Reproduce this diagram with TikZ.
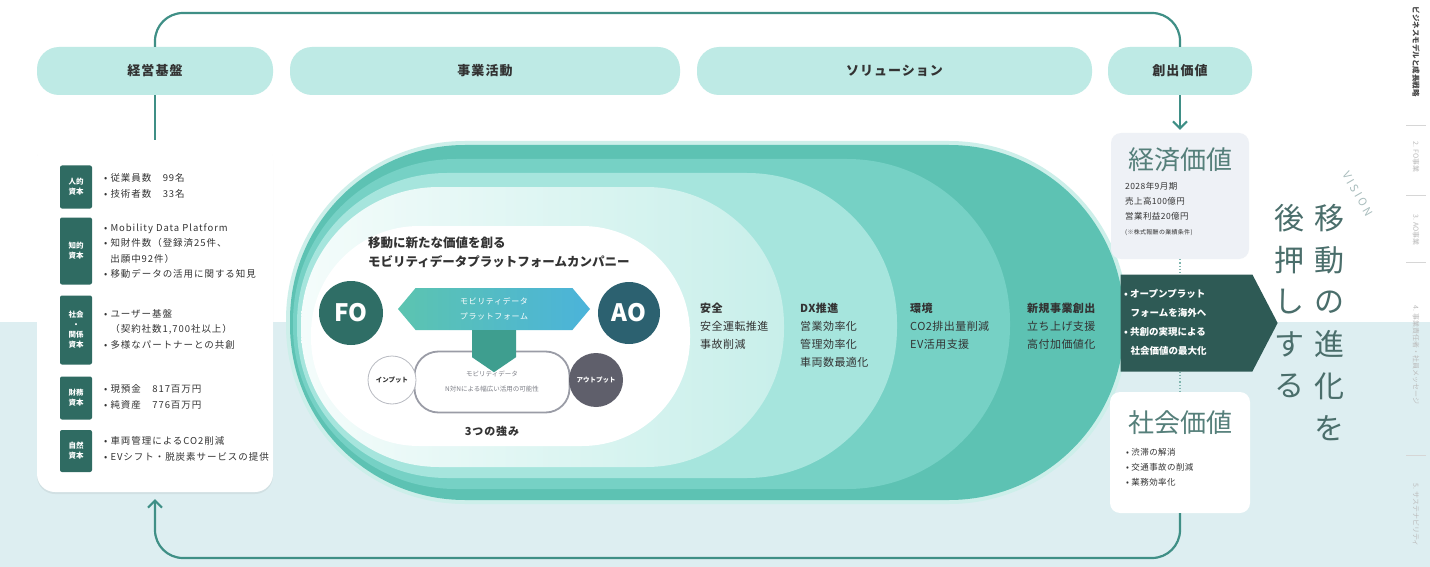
\documentclass[tikz,border=0pt]{standalone}
\usepackage{fontspec}
\setmainfont{Noto Sans CJK JP}
\usetikzlibrary{arrows.meta,shadows,calc,shapes.symbols}
\definecolor{bgband}{HTML}{DDEEF1}
\definecolor{loopc}{HTML}{3F8F86}
\definecolor{hdr}{HTML}{BEEAE5}
\definecolor{capcol}{HTML}{2F6B62}
\definecolor{txt}{HTML}{333333}
\definecolor{lay1}{HTML}{5DC2B3}
\definecolor{lay2}{HTML}{76D1C5}
\definecolor{lay3}{HTML}{A6E5DD}
\definecolor{lay4a}{HTML}{F4FCFB}
\definecolor{lay4b}{HTML}{C8EFEA}
\definecolor{glow}{HTML}{CDEFEA}
\definecolor{focol}{HTML}{2F6E66}
\definecolor{aocol}{HTML}{2C6170}
\definecolor{hexl}{HTML}{5CC4B0}
\definecolor{hexr}{HTML}{4BB3DA}
\definecolor{downarr}{HTML}{3E9E8F}
\definecolor{grayln}{HTML}{9A9CA6}
\definecolor{outcol}{HTML}{5F5F6B}
\definecolor{econbox}{HTML}{EEF1F6}
\definecolor{valtitle}{HTML}{557F7A}
\definecolor{darkarr}{HTML}{2E5A55}
\definecolor{vistxt}{HTML}{4A6E6B}
\definecolor{visgray}{HTML}{A9BDBD}
\definecolor{navdark}{HTML}{444444}
\definecolor{navlight}{HTML}{BBBBBB}
\definecolor{dotc}{HTML}{7FB5AE}
\begin{document}
\begin{tikzpicture}[x=1pt,y=-1pt,
  hdrbox/.style={fill=hdr, rounded corners=22pt, minimum height=48pt, inner sep=0pt,
    font=\fontsize{13}{15}\selectfont\bfseries\addfontfeatures{LetterSpace=8}, text=txt},
  capbox/.style={fill=capcol, text=white, font=\fontsize{7.5}{10}\selectfont\bfseries,
    minimum width=32pt, inner sep=0pt, align=center, rounded corners=2pt},
  captext/.style={anchor=west, align=left, font=\fontsize{9.5}{15.5}\selectfont\addfontfeatures{LetterSpace=10}, text=txt, inner sep=0pt},
  bandtext/.style={anchor=north west, align=left, font=\fontsize{11}{18}\selectfont\addfontfeatures{LetterSpace=4}, text=txt, inner sep=0pt},
  loopline/.style={draw=loopc, line width=2.2pt},
  vistext/.style={font=\fontsize{30}{32}\selectfont, text=vistxt, inner sep=0pt},
  navtext/.style={rotate=-90, font=\fontsize{7}{8}\selectfont, inner sep=0pt},
  valbox/.style={rounded corners=10pt, inner sep=0pt},
  small/.style={font=\fontsize{8.5}{15}\selectfont\addfontfeatures{LetterSpace=5}, text=txt, inner sep=0pt, align=left, anchor=north west}
]
\useasboundingbox (0,0) rectangle (1430,567);
\fill[white] (0,0) rectangle (1430,567);
\fill[bgband] (0,322) rectangle (1430,567);

% headers
\node[hdrbox, minimum width=236pt] (h1) at (155,71) {経営基盤};
\node[hdrbox, minimum width=390pt] (h2) at (485,71) {事業活動};
\node[hdrbox, minimum width=395pt] (h3) at (894.5,71) {ソリューション};
\node[hdrbox, minimum width=144pt] (h4) at (1180,71) {創出価値};

% left panel
\node[fill=white, rounded corners=18pt, minimum width=236pt, minimum height=352pt,
  drop shadow={opacity=0.12, shadow xshift=0pt, shadow yshift=-2pt}] (lp) at (155,316) {};

\node[capbox, minimum height=43pt] (c1) at (76,187) {人的\\資本};
\node[capbox, minimum height=67pt] (c2) at (76,251) {知的\\資本};
\node[capbox, minimum height=69pt] (c3) at (76,330) {社会\\・\\関係\\資本};
\node[capbox, minimum height=43pt] (c4) at (76,398) {財務\\資本};
\node[capbox, minimum height=42pt] (c5) at (76,451) {自然\\資本};

\node[captext] (t1) at (104,186) {• 従業員数　99名\\• 技術者数　33名};
\node[captext] (t2) at (104,251) {• Mobility Data Platform\\• 知財件数（登録済25件、\\\ \ 出願中92件）\\• 移動データの活用に関する知見};
\node[captext] (t3) at (104,329) {• ユーザー基盤\\\ \ （契約社数1,700社以上）\\• 多様なパートナーとの共創};
\node[captext] (t4) at (104,397) {• 現預金　817百万円\\• 純資産　776百万円};
\node[captext] (t5) at (104,449) {• 車両管理によるCO2削減\\• EVシフト・脱炭素サービスの提供};

% nested layers
\draw[glow, line width=8pt, rounded corners=175pt] (290,145) rectangle (1124,500);
\fill[lay1, rounded corners=175pt] (290,145) rectangle (1124,500);
\fill[lay2, rounded corners=163pt] (293,159) rectangle (1010,489);
\fill[lay3, rounded corners=150pt] (297,173) rectangle (897,478);
\shade[left color=lay4a, right color=lay4b, rounded corners=138pt] (301,187) rectangle (784,467);
\fill[white, rounded corners=108pt] (311,226) rectangle (690,446);

% band texts
\node[bandtext] (b1) at (700,303) {\textbf{安全}\\安全運転推進\\事故削減};
\node[bandtext] (b2) at (800,303) {\textbf{DX推進}\\営業効率化\\管理効率化\\車両数最適化};
\node[bandtext] (b3) at (910,303) {\textbf{環境}\\CO2排出量削減\\EV活用支援};
\node[bandtext] (b4) at (1027,303) {\textbf{新規事業創出}\\立ち上げ支援\\高付加価値化};

% inner content
\node[anchor=west, align=left, inner sep=0pt, text=txt, font=\fontsize{12.5}{19}\selectfont\bfseries] (ttl) at (368,252)
  {移動に新たな価値を創る\\モビリティデータプラットフォームカンパニー};
\node[circle, fill=focol, minimum size=64pt, inner sep=0pt, text=white, font=\fontsize{24}{26}\selectfont\bfseries] (fo) at (351,313) {FO};
\node[circle, fill=aocol, minimum size=62pt, inner sep=0pt, text=white, font=\fontsize{24}{26}\selectfont\bfseries] (ao) at (629,313) {AO};
\node[signal, signal to=east and west, signal pointer angle=100, minimum width=192pt, minimum height=42pt,
  left color=hexl, right color=hexr, inner sep=0pt, text=white, align=center,
  font=\fontsize{8}{15}\selectfont\addfontfeatures{LetterSpace=8}] (hex) at (494,309) {モビリティデータ\\プラットフォーム};
\node[draw=grayln, line width=1.8pt, rounded corners=24pt, minimum width=155pt, minimum height=61pt,
  inner sep=0pt, align=center, text=grayln!80!black, font=\fontsize{6.5}{15}\selectfont] (nn) at (492,382)
  {モビリティデータ\\N対Nによる幅広い活用の可能性};
\fill[downarr] ($(hex.south)+(-22,0)$) -- ++(44,0) -- ++(0,27) -- ++(-22,15) -- ++(-22,-15) -- cycle;
\node[circle, draw=grayln!70, line width=0.8pt, fill=white, minimum size=48pt, inner sep=0pt,
  text=txt, font=\fontsize{6.5}{8}\selectfont\bfseries] (inp) at (392,380) {インプット};
\node[circle, fill=outcol, minimum size=54pt, inner sep=0pt,
  text=white, font=\fontsize{6.5}{8}\selectfont\bfseries] (outp) at (596,380) {アウトプット};
\node[font=\fontsize{11}{13}\selectfont\bfseries\addfontfeatures{LetterSpace=8}, text=txt, inner sep=0pt] (str) at (492,431) {3つの強み};

% right column
\node[valbox, fill=econbox, minimum width=138pt, minimum height=126pt] (econ) at (1180,196) {};
\node[inner sep=0pt, text=valtitle, font=\fontsize{26}{28}\selectfont] (econt) at (1180,160) {経済価値};
\node[small] (econx) at (1125,182) {2028年9月期\\売上高100億円\\営業利益20億円\\{\fontsize{6}{8}\selectfont (※株式報酬の業績条件)}};

\node[signal, signal to=east, signal pointer angle=125, fill=darkarr, minimum width=157pt, minimum height=97pt,
  inner sep=0pt] (darr) at (1186.5,323) {};
\node[anchor=north west, align=left, inner sep=0pt, text=white, font=\fontsize{9.5}{19}\selectfont\bfseries] (darrt) at (1124,289)
  {• オープンプラット\\\ \ \ フォームを海外へ\\• 共創の実現による\\\ \ \ 社会価値の最大化};

\node[valbox, fill=white, minimum width=140pt, minimum height=121pt] (soc) at (1180,452.5) {};
\node[inner sep=0pt, text=valtitle, font=\fontsize{26}{28}\selectfont] (soct) at (1180,423) {社会価値};
\node[small] (socx) at (1126,448) {• 渋滞の解消\\• 交通事故の削減\\• 業務効率化};

\draw[dotc, line width=1.2pt, dotted] (econ.south) -- (econ.south |- darr.north);
\draw[dotc, line width=1.2pt, dotted] (soc.north |- darr.south) -- (soc.north);

% loops
\coordinate (topy) at (0,13);
\coordinate (boty) at (0,558);
\draw[loopline, rounded corners=28pt] (h1.north) |- (topy -| h4.north) -- (h4.north);
\draw[loopline] (h1.south) -- (lp.north);
\draw[loopline, -{Straight Barb[length=7pt,width=14pt,line width=2pt]}, shorten >=3pt] (h4.south) -- (econ.north);
\draw[loopline, rounded corners=28pt, -{Straight Barb[length=7pt,width=14pt,line width=2pt]}, shorten >=7pt]
  (soc.south) |- (boty -| lp.south) -- (lp.south);

% vision text
\node[rotate=-60, text=visgray, font=\fontsize{11}{13}\selectfont\addfontfeatures{LetterSpace=25}, inner sep=0pt] (vis) at (1358,194) {VISION};
\foreach \c [count=\i] in {移,動,の,進,化,を} \node[vistext] (m\i) at (1329,{218+42*(\i-1)}) {\c};
\foreach \c [count=\i] in {後,押,し,す,る} \node[vistext] (k\i) at (1289,{218+42*(\i-1)}) {\c};

% side navigation
\node[navtext, text=navdark, font=\fontsize{7.5}{8}\selectfont\bfseries] (n1) at (1416,52) {ビジネスモデルと成長戦略};
\node[navtext, text=navlight] (n2) at (1416,157) {2. FO事業};
\node[navtext, text=navlight] (n3) at (1416,230) {3. AO事業};
\node[navtext, text=navlight] (n4) at (1416,355) {4. 事業責任者・社員メッセージ};
\node[navtext, text=navlight] (n5) at (1416,515) {5. サステナビリティ};
\foreach \yy in {125,195,262,455} \draw[navlight!60, line width=0.6pt] (1406,\yy) -- (1426,\yy);
\end{tikzpicture}
\end{document}
